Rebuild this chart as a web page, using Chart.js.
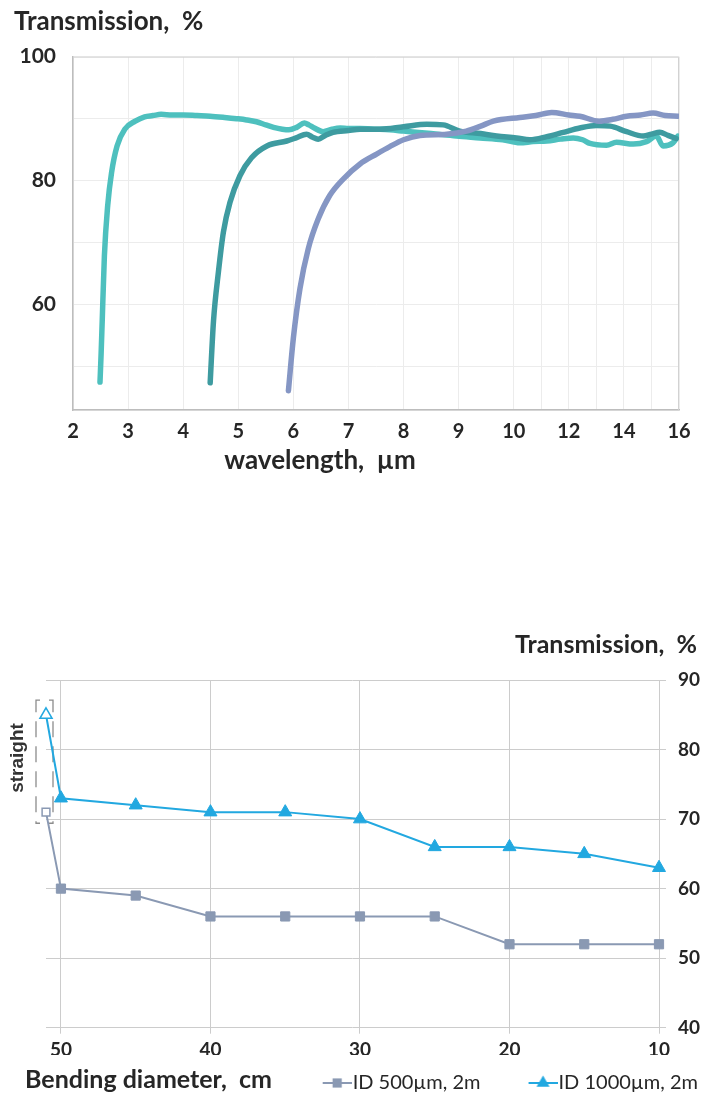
<!DOCTYPE html>
<html>
<head>
<meta charset="utf-8">
<script src="https://cdn.jsdelivr.net/npm/chart.js@4.4.1/dist/chart.umd.min.js"></script>
<style>
  html, body { margin: 0; padding: 0; background: #ffffff; overflow: hidden; }
  #page { position: relative; width: 716px; height: 1100px; }
  #box1 { position: absolute; left: 0; top: 0; width: 716px; height: 480px; }
  #box2 { position: absolute; left: 0; top: 597px; width: 716px; height: 506px; }
</style>
</head>
<body>
<div id="page">
  <div id="box1"><canvas id="spectra" width="716" height="480"></canvas></div>
  <div id="box2"><canvas id="bending" width="716" height="506"></canvas></div>
</div>
<script>
// ================= DATA =================
// Chart 1: transmission spectra (wavelength in µm, transmission in %)
const wlA = [2.49, 2.51, 2.53, 2.57, 2.63, 2.70, 2.80, 2.94, 3.13, 3.30, 3.45, 3.60, 3.80, 4.00, 4.25, 4.49, 4.75, 4.97, 5.15, 5.33, 5.50, 5.64, 5.80, 5.92, 6.06, 6.20, 6.28, 6.38, 6.54, 6.70, 6.85, 7.00, 7.21, 7.50, 7.75, 8.00, 8.50, 8.96, 9.39, 9.80, 10.22, 10.70, 11.20, 11.70, 12.16, 12.50, 12.77, 13.37, 13.73, 14.34, 14.82, 15.18, 15.42, 15.78, 15.96];
const trA = [47.5, 52.0, 57.3, 67.9, 76.0, 81.3, 85.6, 88.3, 89.6, 90.3, 90.5, 90.7, 90.6, 90.6, 90.5, 90.4, 90.2, 90.0, 89.8, 89.5, 89.0, 88.6, 88.3, 88.2, 88.6, 89.3, 89.0, 88.5, 87.9, 88.3, 88.5, 88.4, 88.4, 88.3, 88.2, 88.0, 87.6, 87.2, 86.9, 86.6, 86.1, 86.3, 86.4, 86.7, 86.9, 86.6, 86.0, 85.7, 86.2, 85.9, 86.3, 87.2, 85.6, 86.1, 87.2];

const wlB = [4.49, 4.55, 4.64, 4.73, 4.85, 5.03, 5.24, 5.52, 5.88, 6.05, 6.24, 6.35, 6.45, 6.58, 6.72, 7.00, 7.21, 7.57, 8.00, 8.42, 8.72, 9.02, 9.40, 9.69, 10.10, 10.58, 11.20, 11.80, 12.40, 13.00, 13.50, 14.10, 14.70, 15.00, 15.30, 15.60, 15.90];
const trB = [47.4, 57.3, 65.3, 71.7, 76.5, 80.8, 83.7, 85.6, 86.4, 86.9, 87.5, 87.0, 86.7, 87.3, 87.8, 88.1, 88.3, 88.3, 88.7, 89.1, 89.0, 88.0, 87.6, 87.2, 86.9, 86.6, 87.1, 87.8, 88.5, 88.9, 88.8, 87.9, 87.2, 87.5, 87.8, 87.3, 86.8];

const wlC = [5.91, 6.00, 6.12, 6.27, 6.45, 6.66, 6.91, 7.21, 7.51, 7.75, 8.00, 8.30, 8.78, 9.14, 9.40, 9.63, 10.22, 10.80, 11.38, 12.00, 12.40, 13.10, 13.60, 14.10, 14.60, 15.06, 15.50, 15.96];
const trC = [46.1, 54.6, 62.6, 69.0, 73.8, 77.6, 80.3, 82.7, 84.3, 85.5, 86.6, 87.3, 87.5, 88.0, 88.8, 89.6, 90.2, 90.5, 91.0, 90.6, 90.4, 89.6, 89.9, 90.4, 90.6, 90.9, 90.5, 90.4];

const wlGrid = [2, 3, 4, 5, 6, 7, 8, 9, 10, 11, 12, 13, 14, 15, 16];
const wlLabels = [2, 3, 4, 5, 6, 7, 8, 9, 10, 12, 14, 16];
const trLabels1 = [60, 80, 100];

// Chart 2: transmission vs bending diameter
const bendDiam = [50, 45, 40, 35, 30, 25, 20, 15, 10];
const trID500 = [60, 59, 56, 56, 56, 56, 52, 52, 52];
const trID1000 = [73, 72, 71, 71, 70, 66, 66, 65, 63];
const straightX = 51;
const trID500Straight = 71;
const trID1000Straight = 85;
const diamTicks = [50, 40, 30, 20, 10];
const seriesNames = ['ID 500µm, 2m', 'ID 1000µm, 2m'];

// ================= STYLE =================
const TXT = '#262626';
const FONT = 'Lato';
const COL_A = '#4EC0BE';
const COL_B = '#3E9BA0';
const COL_C = '#8596C4';
const COL_GRAY = '#8A99B3';
const COL_BLUE = '#22A8E0';

// piecewise wavelength axis: 2..10 at one step per µm, 10..16 compressed x2
const warp = l => (l <= 10 ? l : 10 + (l - 10) / 2);
const unwarp = u => (u <= 10 ? u : 10 + (u - 10) * 2);

const freeText = {
  id: 'freeText',
  afterDraw(chart, args, opts) {
    const ctx = chart.ctx;
    (opts.items || []).forEach(t => {
      ctx.save();
      ctx.font = t.font;
      ctx.fillStyle = t.color || TXT;
      ctx.textAlign = t.align || 'left';
      ctx.textBaseline = 'middle';
      ctx.translate(t.x, t.y);
      if (t.rotate) ctx.rotate(t.rotate);
      ctx.fillText(t.text, 0, 0);
      ctx.restore();
    });
  }
};

const frame = {
  id: 'frame',
  beforeDatasetsDraw(chart, args, o) {
    const { ctx, chartArea: { left, right, top, bottom } } = chart;
    ctx.save();
    ctx.strokeStyle = o.color;
    ctx.lineWidth = 1;
    ctx.beginPath();
    ctx.moveTo(left, top + 0.5);
    ctx.lineTo(right - 0.5, top + 0.5);
    ctx.lineTo(right - 0.5, bottom);
    ctx.stroke();
    ctx.restore();
  }
};

const bracket = {
  id: 'bracket',
  beforeDatasetsDraw(chart, args, o) {
    const { ctx, scales: { x, y } } = chart;
    const cx = x.getPixelForValue(o.at);
    const top = y.getPixelForValue(o.from);
    const bot = y.getPixelForValue(o.to);
    const L = cx - o.left, R = cx + o.right;
    ctx.save();
    ctx.strokeStyle = o.color;
    ctx.lineWidth = 1.3;
    ctx.setLineDash(o.dash);
    ctx.beginPath();
    ctx.moveTo(L + o.foot, top); ctx.lineTo(L, top); ctx.lineTo(L, bot); ctx.lineTo(L + o.foot, bot);
    ctx.stroke();
    ctx.beginPath();
    ctx.moveTo(R - o.foot, top); ctx.lineTo(R, top); ctx.lineTo(R, bot); ctx.lineTo(R - o.foot, bot);
    ctx.stroke();
    ctx.restore();
  }
};

function legendIcon(color, style, radius) {
  const c = document.createElement('canvas');
  c.width = 68; c.height = 22;
  const g = c.getContext('2d');
  g.strokeStyle = color; g.lineWidth = 2;
  g.beginPath(); g.moveTo(39, 11); g.lineTo(68, 11); g.stroke();
  g.fillStyle = color;
  Chart.helpers.drawPoint(g, { pointStyle: style, radius: radius, borderWidth: 0, rotation: 0 }, 53.5, 11);
  return c;
}

function build() {
  const spectraSet = (wl, tr, color, order) => ({
    data: wl.map((l, i) => ({ x: warp(l), y: tr[i] })),
    borderColor: color,
    borderWidth: 5.5,
    pointRadius: 0,
    cubicInterpolationMode: 'monotone',
    borderCapStyle: 'round',
    borderJoinStyle: 'round',
    order: order
  });

  new Chart(document.getElementById('spectra'), {
    type: 'line',
    data: {
      datasets: [
        spectraSet(wlA, trA, COL_A, 3),
        spectraSet(wlB, trB, COL_B, 2),
        spectraSet(wlC, trC, COL_C, 1)
      ]
    },
    plugins: [frame, freeText],
    options: {
      responsive: false,
      animation: false,
      devicePixelRatio: 1,
      layout: { padding: { left: 14, right: 37, top: 0, bottom: 30 } },
      scales: {
        x: {
          type: 'linear',
          min: warp(wlGrid[0]),
          max: warp(wlGrid[wlGrid.length - 1]),
          afterBuildTicks: s => { s.ticks = wlGrid.map(l => ({ value: warp(l) })); },
          afterFit: s => { s.height = 40; },
          ticks: {
            autoSkip: false, maxRotation: 0, padding: 10,
            color: TXT, font: { family: FONT, weight: 'bold', size: 20 },
            callback: v => {
              const l = Math.round(unwarp(v) * 100) / 100;
              return wlLabels.includes(l) ? String(l) : '';
            }
          },
          grid: { color: '#ECECEC', drawTicks: false },
          border: { color: '#BDBDBD', width: 1.5 }
        },
        y: {
          min: 43, max: 100,
          afterFit: s => { s.width = 59; },
          ticks: {
            stepSize: 10, padding: 17,
            color: TXT, font: { family: FONT, weight: 'bold', size: 21 },
            callback: v => (trLabels1.includes(v) ? String(v) : '')
          },
          grid: { color: '#ECECEC', drawTicks: false },
          border: { color: '#BDBDBD', width: 1.5 }
        }
      },
      plugins: {
        legend: { display: false },
        tooltip: { enabled: false },
        title: {
          display: true, text: 'Transmission,  %', align: 'start',
          color: TXT, font: { family: FONT, weight: 'bold', size: 26 },
          padding: { top: 6, bottom: 19.5 }
        },
        frame: { color: '#D2D2D2' },
        freeText: {
          items: [
            { text: 'wavelength,  µm', x: 320, y: 461, align: 'center', font: 'bold 26px Lato' }
          ]
        }
      }
    }
  });

  const icons = [legendIcon(COL_GRAY, 'rect', 6.5), legendIcon(COL_BLUE, 'triangle', 7.5)];

  new Chart(document.getElementById('bending'), {
    type: 'line',
    data: {
      datasets: [
        {
          label: seriesNames[0],
          data: [{ x: straightX, y: trID500Straight }].concat(bendDiam.map((d, i) => ({ x: d, y: trID500[i] }))),
          borderColor: COL_GRAY, backgroundColor: COL_GRAY, borderWidth: 2,
          pointStyle: 'rect',
          pointRadius: c => (c.dataIndex === 0 ? 5.5 : 6.5),
          pointBackgroundColor: c => (c.dataIndex === 0 ? '#ffffff' : COL_GRAY),
          pointBorderColor: COL_GRAY,
          pointBorderWidth: c => (c.dataIndex === 0 ? 1.5 : 1),
          clip: false, tension: 0
        },
        {
          label: seriesNames[1],
          data: [{ x: straightX, y: trID1000Straight }].concat(bendDiam.map((d, i) => ({ x: d, y: trID1000[i] }))),
          borderColor: COL_BLUE, backgroundColor: COL_BLUE, borderWidth: 2,
          pointStyle: 'triangle',
          pointRadius: c => (c.dataIndex === 0 ? 7 : 7.5),
          pointBackgroundColor: c => (c.dataIndex === 0 ? '#ffffff' : COL_BLUE),
          pointBorderColor: COL_BLUE,
          pointBorderWidth: c => (c.dataIndex === 0 ? 1.5 : 1),
          clip: false, tension: 0
        }
      ]
    },
    plugins: [bracket, freeText],
    options: {
      responsive: false,
      animation: false,
      devicePixelRatio: 1,
      layout: { padding: { left: 46, right: 0, top: 83, bottom: 0 } },
      scales: {
        x: {
          type: 'linear', reverse: true, min: 10, max: straightX,
          afterBuildTicks: s => { s.ticks = diamTicks.map(v => ({ value: v })); },
          afterFit: s => { s.height = 27.3; },
          ticks: {
            autoSkip: false, maxRotation: 0, padding: 5,
            color: TXT, font: { family: FONT, weight: 'bold', size: 19 }
          },
          grid: { color: '#CCCCCC', tickLength: 6 },
          border: { display: false }
        },
        y: {
          position: 'right', min: 40, max: 90,
          afterFit: s => { s.width = 57; },
          ticks: {
            stepSize: 10, padding: 12,
            color: TXT, font: { family: FONT, weight: 'bold', size: 19 }
          },
          grid: { color: '#CCCCCC', tickLength: 7 },
          border: { display: false }
        }
      },
      plugins: {
        tooltip: { enabled: false },
        legend: {
          position: 'bottom', align: 'end',
          labels: {
            usePointStyle: true, pointStyleWidth: 50, padding: 18,
            color: TXT, font: { family: FONT, size: 20 },
            generateLabels: chart => Chart.defaults.plugins.legend.labels.generateLabels(chart)
              .map((item, i) => Object.assign(item, { pointStyle: icons[i] }))
          }
        },
        bracket: { at: straightX, from: 87.1, to: 69.4, left: 10, right: 7, foot: 4, color: '#8C8C8C', dash: [16, 9] },
        freeText: {
          items: [
            { text: 'Transmission,  %', x: 697, y: 48, align: 'right', font: 'bold 25px Lato' },
            { text: 'Bending diameter,  cm', x: 25, y: 483, align: 'left', font: 'bold 25px Lato' },
            { text: 'straight', x: 18, y: 161, align: 'center', font: 'bold 19px "Liberation Sans"', color: '#333333', rotate: -Math.PI / 2 }
          ]
        }
      }
    }
  });
}

const fontLoads = ['bold 26px Lato', 'bold 20px Lato', '20px Lato', 'bold 19px "Liberation Sans"']
  .map(f => (document.fonts && document.fonts.load ? document.fonts.load(f) : Promise.resolve()));
Promise.all(fontLoads).then(build, build);
</script>
</body>
</html>
